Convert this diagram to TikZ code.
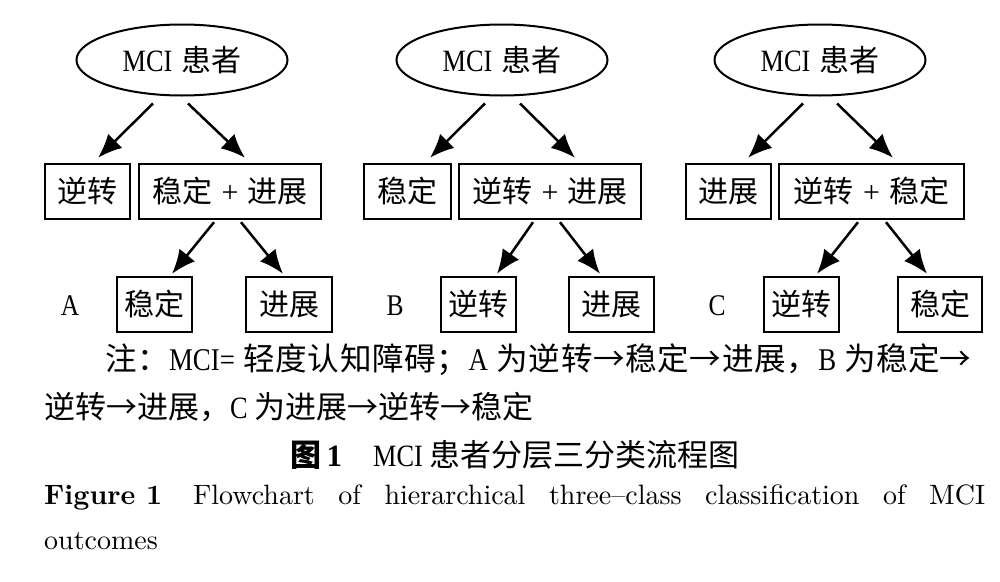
\documentclass[tikz,border=0pt]{standalone}
\usepackage{fontspec}
\newfontfamily\tms{Liberation Serif}
\newfontfamily\tmsn{Liberation Serif}[FakeStretch=0.85]
\newfontfamily\lmten{lmroman10-regular}[Extension=.otf, BoldFont=lmroman10-bold]
\newfontfamily\cjk{Noto Sans CJK SC}
\newfontfamily\cjkls{Noto Sans CJK SC}[LetterSpace=2]
\newcommand\zh[1]{{\cjk #1}}
\newcommand\zl[1]{{\cjkls #1}}
\newcommand\tm[1]{{\tmsn #1}}
\usetikzlibrary{shapes.geometric,arrows.meta}
\begin{document}
\begin{tikzpicture}[x=1pt,y=-1pt,
  box/.style={draw, line width=2.4pt, rectangle, minimum height=55pt, inner sep=0pt, font=\fontsize{30}{36}\selectfont},
  oval/.style={draw, line width=2pt, ellipse, minimum width=211pt, minimum height=71pt, inner sep=0pt, font=\fontsize{30}{36}\selectfont},
  arr/.style={line width=2.5pt, -{Latex[length=24pt,width=20pt]}},
  lbl/.style={font=\fontsize{30}{36}\selectfont\tmsn, inner sep=0pt},
  capw/.style={font=\fontsize{31}{36}\selectfont, inner sep=0pt, anchor=west},
  capc/.style={font=\fontsize{31}{36}\selectfont, inner sep=0pt},
  engl/.style={font=\fontsize{28}{36}\selectfont\lmten, inner sep=0pt, anchor=west}]
\useasboundingbox[fill=white] (0,0) rectangle (1000,581);

% ---- group A
\node[oval] (eA) at (182,60) {{\fontsize{31}{30}\selectfont\tmsn MCI} \zh{患者}};
\node[box, minimum width=85pt] (A1) at (87.5,191.5) {\zh{逆转}};
\node[box, minimum width=182pt] (A2) at (230,191.5) {\zh{稳定} {\tms +} \zh{进展}};
\node[box, minimum width=75pt] (A3) at (154.5,304.5) {\zh{稳定}};
\node[box, minimum width=86pt] (A4) at (289,304.5) {\zh{进展}};
\node[lbl] (LA) at (70,306) {A};
\draw[arr] ([xshift=-29pt,yshift=-7pt]eA.south) -- ([xshift=10.5pt,yshift=5pt]A1.north);
\draw[arr] ([xshift=6pt,yshift=-7pt]eA.south) -- ([xshift=15pt,yshift=5pt]A2.north);
\draw[arr] ([xshift=-16pt,yshift=-2pt]A2.south) -- ([xshift=17.5pt,yshift=2pt]A3.north);
\draw[arr] ([xshift=11pt,yshift=-2pt]A2.south) -- ([xshift=-6pt,yshift=2pt]A4.north);

% ---- group B
\node[oval] (eB) at (502,60) {{\fontsize{31}{30}\selectfont\tmsn MCI} \zh{患者}};
\node[box, minimum width=87pt] (B1) at (407.5,191.5) {\zh{稳定}};
\node[box, minimum width=182pt] (B2) at (550,191.5) {\zh{逆转} {\tms +} \zh{进展}};
\node[box, minimum width=75pt] (B3) at (478.5,304.5) {\zh{逆转}};
\node[box, minimum width=85pt] (B4) at (611.5,304.5) {\zh{进展}};
\node[lbl] (LB) at (395,306) {B};
\draw[arr] ([xshift=-17pt,yshift=-7pt]eB.south) -- ([xshift=22.5pt,yshift=5pt]B1.north);
\draw[arr] ([xshift=18pt,yshift=-7pt]eB.south) -- ([xshift=25pt,yshift=5pt]B2.north);
\draw[arr] ([xshift=-17pt,yshift=-2pt]B2.south) -- ([xshift=18.5pt,yshift=2pt]B3.north);
\draw[arr] ([xshift=10pt,yshift=-2pt]B2.south) -- ([xshift=-11.5pt,yshift=2pt]B4.north);

% ---- group C
\node[oval] (eC) at (820,60) {{\fontsize{31}{30}\selectfont\tmsn MCI} \zh{患者}};
\node[box, minimum width=85pt] (C1) at (728.5,191.5) {\zh{进展}};
\node[box, minimum width=185pt] (C2) at (871.5,191.5) {\zh{逆转} {\tms +} \zh{稳定}};
\node[box, minimum width=75pt] (C3) at (801.5,304.5) {\zh{逆转}};
\node[box, minimum width=84pt] (C4) at (940,304.5) {\zh{稳定}};
\node[lbl] (LC) at (717,306) {C};
\draw[arr] ([xshift=-17pt,yshift=-7pt]eC.south) -- ([xshift=19.5pt,yshift=5pt]C1.north);
\draw[arr] ([xshift=17pt,yshift=-7pt]eC.south) -- ([xshift=21.5pt,yshift=5pt]C2.north);
\draw[arr] ([xshift=-13.5pt,yshift=-2pt]C2.south) -- ([xshift=15.5pt,yshift=2pt]C3.north);
\draw[arr] ([xshift=14.5pt,yshift=-2pt]C2.south) -- ([xshift=-13pt,yshift=2pt]C4.north);

% ---- caption
\node[capw] (n1) at (105,360) {\makebox[866pt][s]{\fontsize{31.6}{36}\selectfont\zl{注：}\tm{MCI= }\zl{轻度认知障碍；}\tm{A }\zl{为逆转→稳定→进展，}\tm{B }\zh{为稳定→}}};
\node[capw] (n2) at (44,407) {\zh{逆转→进展，}\tm{C }\zh{为进展→逆转→稳定}};
\node[capc] (t1) at (515,455) {{\cjk\bfseries 图}\,{\tms\bfseries 1}\hspace{1em}\tm{MCI }\zh{患者分层三分类流程图}};
\node[engl] (f1) at (44,497) {\makebox[941pt][s]{\mbox{\bfseries Figure 1}\hspace{1.1em}Flowchart of hierarchical three–class classification of MCI}};
\node[engl] (f2) at (44,541) {outcomes};
\end{tikzpicture}
\end{document}
